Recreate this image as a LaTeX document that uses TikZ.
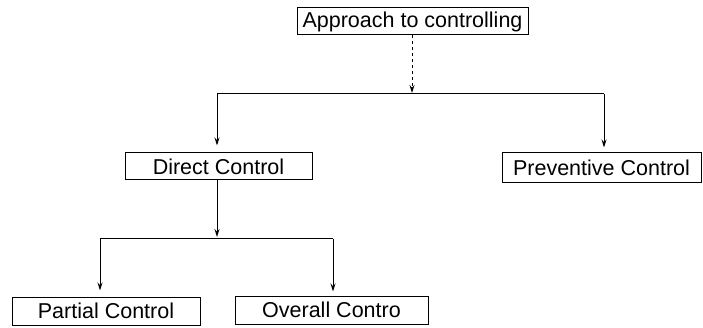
\documentclass[tikz,border=0pt]{standalone}
\usepackage{fontspec}
\setmainfont{Liberation Sans}
\usetikzlibrary{arrows.meta}
\begin{document}
\begin{tikzpicture}[x=1pt,y=-1pt,
  box/.style={draw,line width=1pt,inner sep=0pt,anchor=center,
    font=\fontsize{21.5}{24}\selectfont},
  conn/.style={line width=1pt},
  arr/.style={conn,-{Stealth[length=8pt,width=5pt]},shorten >=6pt}]
\useasboundingbox (0,0) rectangle (703,328);
\node[box,minimum width=231pt,minimum height=27pt] (app) at (412.5,21.5) {Approach to controlling};
\node[box,minimum width=187pt,minimum height=27pt] (dir) at (218.5,166.5) {Direct Control};
\node[box,minimum width=199pt,minimum height=30pt] (prev) at (601.5,168) {Preventive Control};
\node[box,minimum width=188pt,minimum height=28pt] (part) at (106,311) {Partial Control};
\node[box,minimum width=193pt,minimum height=28pt] (over) at (331.5,310) {Overall Contro};
\coordinate (j1) at (412,94);
\coordinate (l1) at (217,94);
\coordinate (r1) at (604,94);
\coordinate (j2) at (217,239);
\coordinate (l2) at (100,239);
\coordinate (r2) at (333,239);
\draw[arr,dashed,shorten >=1pt] (app.south -| j1) -- (j1);
\draw[conn] (l1) -- (r1);
\draw[arr,shorten >=7pt] (l1) -- (dir.north -| l1);
\draw[arr,shorten >=5pt] (r1) -- (prev.north -| r1);
\draw[arr,shorten >=2pt] (dir.south -| j2) -- (j2);
\draw[conn] (l2) -- (r2);
\draw[arr,shorten >=6pt] (l2) -- (part.north -| l2);
\draw[arr,shorten >=4pt] (r2) -- (over.north -| r2);
\end{tikzpicture}
\end{document}
